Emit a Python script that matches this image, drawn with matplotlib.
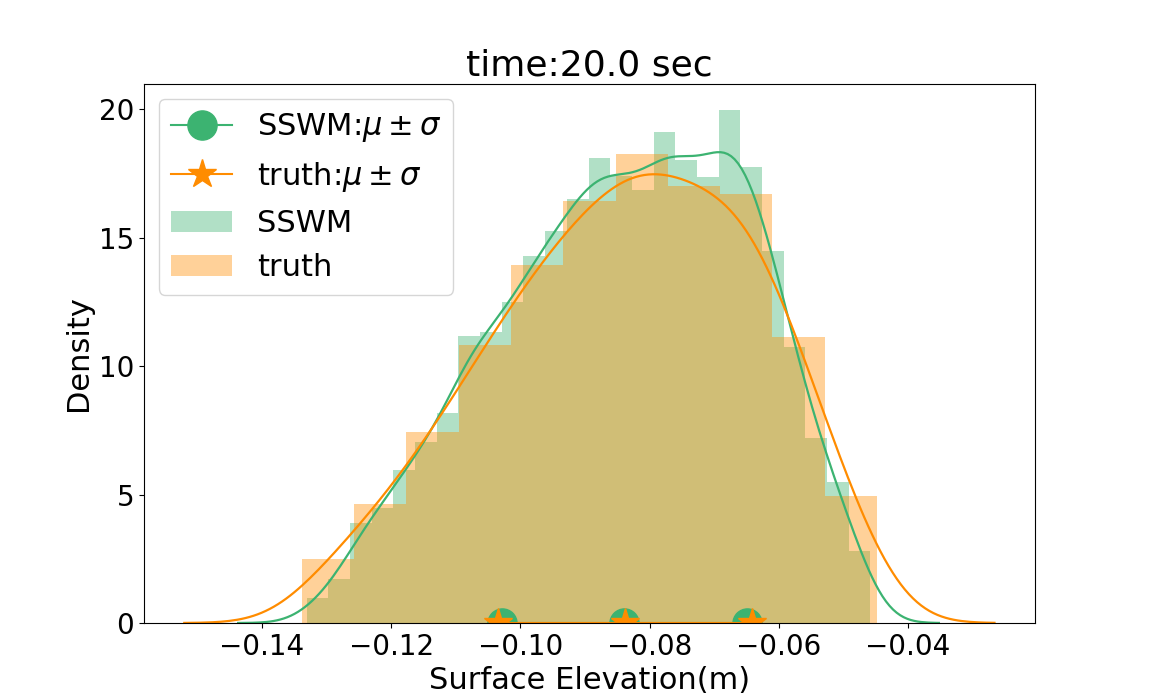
import math
import numpy as np
import matplotlib
matplotlib.use("Agg")
import matplotlib.pyplot as plt
from matplotlib.patches import Patch
from matplotlib.lines import Line2D

# ---------------- data ----------------
title = "time:20.0 sec"
xlabel = "Surface Elevation(m)"
ylabel = "Density"

# SSWM histogram (26 equal bins between data min and max), density values
sswm_range = (-0.13310, -0.04579)
sswm_density = [0.96, 1.71, 3.88, 4.49, 5.96, 7.05, 8.18, 11.18, 11.31, 12.48,
                14.27, 15.24, 16.52, 18.08, 17.39, 16.84, 19.10, 18.04, 17.36,
                19.98, 17.73, 14.49, 10.74, 7.19, 5.48, 2.80]
sswm_bw = 0.00353

# truth histogram (11 equal bins), density values
truth_range = (-0.13382, -0.04480)
truth_density = [2.49, 4.64, 7.44, 10.83, 13.95, 16.41, 18.27, 17.02, 16.71,
                 11.13, 4.95]
truth_bw = 0.00607

# mu - sigma, mu, mu + sigma
sswm_stats = [-0.10283, -0.08389, -0.06495]
truth_stats = [-0.10350, -0.08378, -0.06406]

legend_labels = [r"SSWM:$\mu\pm\sigma$", r"truth:$\mu\pm\sigma$", "SSWM", "truth"]

green = "mediumseagreen"
orange = "darkorange"

# ---------------- helpers ----------------
_erf = np.vectorize(math.erf)


def phi(z):
    return 0.5 * (1.0 + _erf(z / math.sqrt(2.0)))


def smooth_curve(rng, dens, bw):
    edges = np.linspace(rng[0], rng[1], len(dens) + 1)
    x = np.linspace(rng[0] - 3 * bw, rng[1] + 3 * bw, 200)
    y = np.zeros_like(x)
    for a, b, h in zip(edges[:-1], edges[1:], dens):
        y += h * (phi((x - a) / bw) - phi((x - b) / bw))
    return edges, x, y


# ---------------- plot ----------------
fig, ax = plt.subplots(figsize=(11.5, 7), dpi=100)

g_edges, gx, gy = smooth_curve(sswm_range, sswm_density, sswm_bw)
t_edges, tx, ty = smooth_curve(truth_range, truth_density, truth_bw)

ax.bar(g_edges[:-1], sswm_density, width=np.diff(g_edges), align="edge",
       color=green, alpha=0.4, linewidth=0)
ax.plot(gx, gy, color=green, lw=1.6)
ax.bar(t_edges[:-1], truth_density, width=np.diff(t_edges), align="edge",
       color=orange, alpha=0.4, linewidth=0)
ax.plot(tx, ty, color=orange, lw=1.6)

ax.plot(sswm_stats, [0] * len(sswm_stats), "-o", color=green, markersize=21)
ax.plot(truth_stats, [0] * len(truth_stats), "-*", color=orange, markersize=21)

handles = [
    Line2D([], [], color=green, marker="o", markersize=21),
    Line2D([], [], color=orange, marker="*", markersize=21),
    Patch(facecolor=green, alpha=0.4, linewidth=0),
    Patch(facecolor=orange, alpha=0.4, linewidth=0),
]
ax.legend(handles, legend_labels, loc="upper left", fontsize=22)

ax.set_title(title, fontsize=26)
ax.set_xlabel(xlabel, fontsize=22)
ax.set_ylabel(ylabel, fontsize=22)
ax.tick_params(labelsize=20)
ax.set_yticks([0, 5, 10, 15, 20])

fig.savefig("out.png", dpi=100)
